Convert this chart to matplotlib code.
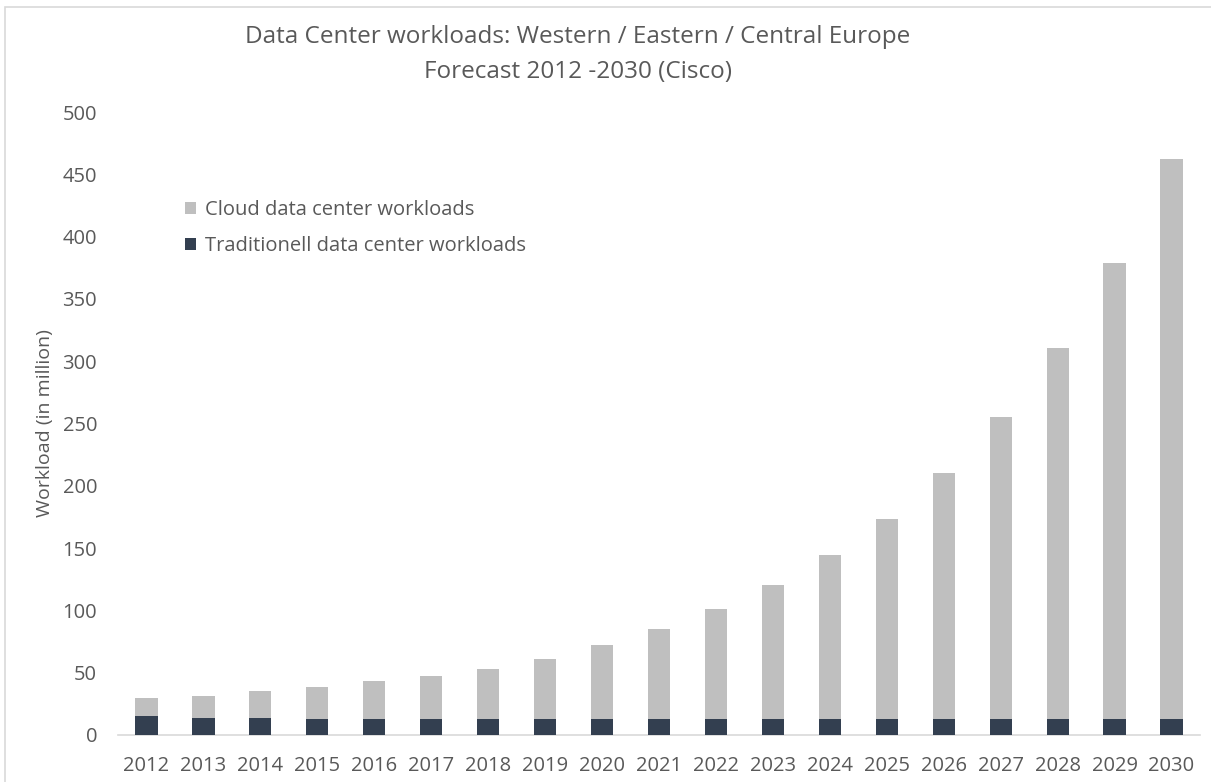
import matplotlib
matplotlib.use("Agg")
import matplotlib.pyplot as plt
from matplotlib.patches import Rectangle

years = [str(y) for y in range(2012, 2031)]
traditional = [15, 14, 14, 13, 13, 13, 13, 13, 13, 13, 13, 13, 13, 13, 13, 13, 13, 13, 13]
total = [29.5, 31.3, 35.6, 38.5, 43, 47.6, 52.7, 60.7, 72, 84.8, 100.9, 120.1, 144.5, 173.6,
         210.5, 255, 310.6, 378.6, 462.3]
cloud = [t - d for t, d in zip(total, traditional)]

plt.rcParams['font.family'] = ['Open Sans', 'DejaVu Sans']
text_color = '#595959'

fig = plt.figure(figsize=(12.11, 7.82), dpi=100)
fig.patches.append(Rectangle((5 / 1211, -0.01), 1.02, 1 - 7 / 782 + 0.01, transform=fig.transFigure,
                             fill=False, edgecolor='#D9D9D9', linewidth=1.2))
ax = fig.add_axes([118 / 1211, 1 - 735 / 782, (1200 - 118) / 1211, (735 - 112) / 782])

x = list(range(len(years)))
ax.bar(x, traditional, width=0.39, color='#333F50', label='Traditionell data center workloads', zorder=3)
ax.bar(x, cloud, width=0.39, bottom=traditional, color='#BFBFBF', label='Cloud data center workloads', zorder=3)

ax.set_xlim(-0.5, len(years) - 0.5)
ax.set_ylim(0, 500)
ax.set_yticks(range(0, 501, 50))
ax.set_xticks(x)
ax.set_xticklabels(years)
ax.tick_params(axis='both', length=0, labelsize=14.5, labelcolor=text_color)
ax.tick_params(axis='y', pad=15)
ax.tick_params(axis='x', pad=15)
for s in ['top', 'right', 'left']:
    ax.spines[s].set_visible(False)
ax.spines['bottom'].set_color('#D9D9D9')
ax.spines['bottom'].set_linewidth(1.2)

ax.set_ylabel('Workload (in million)', fontsize=14, color=text_color)
ax.yaxis.set_label_coords(-64 / 1082, 0.5)

fig.text(578 / 1211, 1 - 37 / 782, 'Data Center workloads: Western / Eastern / Central Europe',
         ha='center', va='center', fontsize=17.5, color=text_color)
fig.text(578 / 1211, 1 - 72 / 782, 'Forecast 2012 -2030 (Cisco)',
         ha='center', va='center', fontsize=17.5, color=text_color)

handles, labels = ax.get_legend_handles_labels()
leg = ax.legend(handles[::-1], labels[::-1], loc='upper left', bbox_to_anchor=(0.045, 0.888),
                frameon=False, fontsize=14.5, labelcolor=text_color, handlelength=0.55,
                handleheight=0.55, handletextpad=0.45, labelspacing=0.8)

fig.savefig('out.png', dpi=100)
